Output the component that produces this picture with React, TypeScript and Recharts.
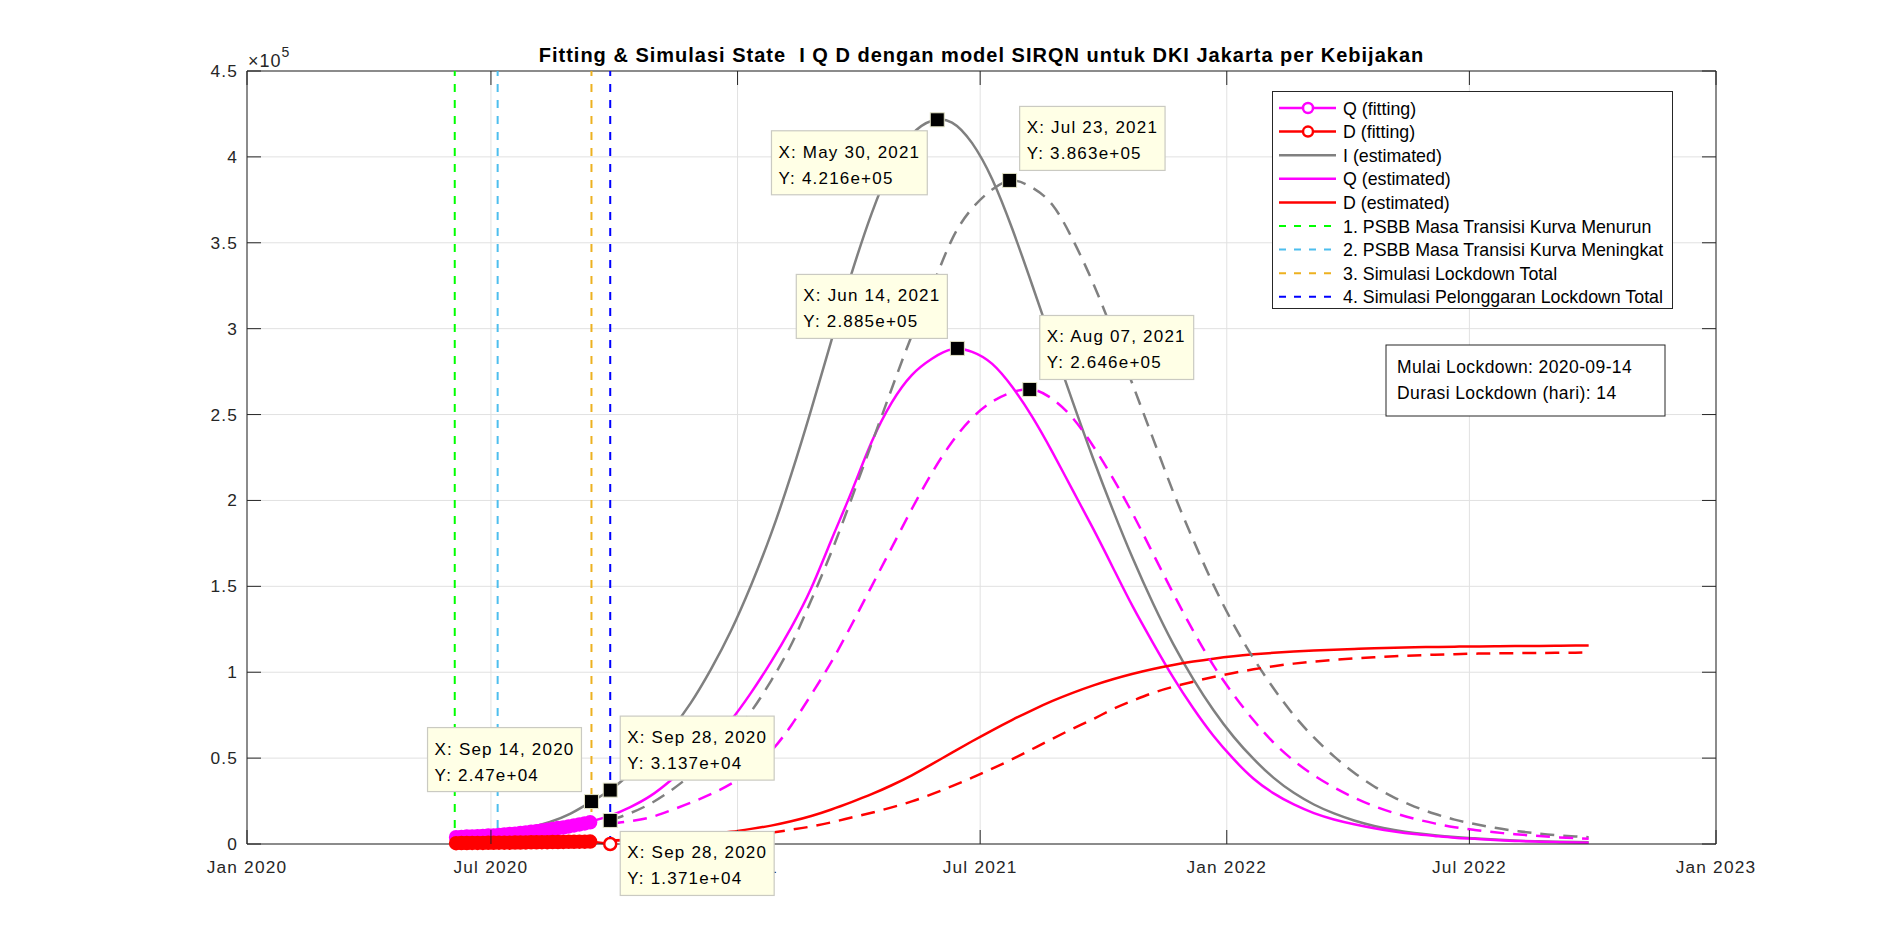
import React from "react";
import {
  CartesianGrid,
  Legend,
  Line,
  LineChart,
  ReferenceDot,
  ReferenceLine,
  XAxis,
  YAxis,
} from "recharts";

const WIDTH = 1898;
const HEIGHT = 949;
const PLOT = { left: 247, right: 1716, top: 71, bottom: 844 };
const PLOT_W = PLOT.right - PLOT.left;
const FONT = '"Liberation Sans", Arial, Helvetica, sans-serif';
const INK = "#262626";
const TICK_LEN = 14;

// x values are days since 1 Jan 2020
const xTicks = [0, 182, 366, 547, 731, 912, 1096];
const xTickLabels = ["Jan 2020", "Jul 2020", "Jan 2021", "Jul 2021", "Jan 2022", "Jul 2022", "Jan 2023"];
const yTicks = [0, 50000, 100000, 150000, 200000, 250000, 300000, 350000, 400000, 450000];
const yTickLabels = ["0", "0.5", "1", "1.5", "2", "2.5", "3", "3.5", "4", "4.5"];

// fitting data (Jun 5 - Sep 14 2020), then one last D point on Sep 28
const fitDays = [156, 160, 164, 168, 172, 176, 180, 184, 188, 192, 196, 200, 204, 208, 212, 216, 220, 224, 228, 232, 236, 240, 244, 248, 252, 256];
const qFit = [4000, 4100, 4300, 4400, 4500, 4700, 4900, 5000, 5300, 5500, 5800, 6000, 6400, 6700, 7100, 7400, 7900, 8300, 8700, 9300, 9600, 10200, 10800, 11400, 12000, 12600];
const dFitDays = [156, 160, 164, 168, 172, 176, 180, 184, 188, 192, 196, 200, 204, 208, 212, 216, 220, 224, 228, 232, 236, 240, 244, 248, 252, 256, 271];
const dFit = [500, 530, 560, 590, 620, 650, 680, 710, 740, 770, 800, 840, 870, 910, 950, 990, 1030, 1070, 1110, 1160, 1200, 1240, 1290, 1330, 1370, 1410, 0];

// simulation days (every 15 days from Sep 28 2020)
const simDays = [271, 286, 301, 316, 331, 346, 361, 376, 391, 406, 421, 436, 451, 466, 481, 496, 511, 526, 541, 556, 571, 586, 601, 616, 631, 646, 661, 676, 691, 706, 721, 736, 751, 766, 781, 796, 811, 826, 841, 856, 871, 886, 901, 916, 931, 946, 961, 976, 991, 1001];

// estimated, no lockdown (solid) - thousands
const iEarlyDays = [156, 166, 181, 196, 211, 226, 241, 256];
const iEarly = [6.8, 6.6, 6.7, 7.6, 9.6, 12.8, 17.5, 24.2];
const iBase = [31.4, 41.2, 52.5, 66, 82, 101.5, 124, 150.5, 180.5, 215, 253, 293, 332, 367, 395, 413, 421, 420, 408, 387, 358, 325, 291, 257.5, 225, 194.5, 166, 140, 116.5, 96, 78, 62.5, 49.5, 38.5, 29.8, 23, 17.8, 13.7, 10.5, 8.2, 6.4, 5.1, 4.1, 3.3, 2.6, 2.0, 1.6, 1.3, 1.1, 1.0];
const qBase = [16.5, 21.5, 28, 37, 47.5, 59, 72, 88, 106, 126, 149, 177, 205, 234, 257, 273, 282.5, 288, 286.5, 279.5, 266, 248.5, 228, 206, 184, 161, 138, 117, 97, 79, 63, 49.5, 38, 29.5, 23, 18, 14.3, 11.5, 9.2, 7.3, 5.8, 4.7, 3.7, 3.0, 2.3, 1.8, 1.4, 1.1, 0.9, 0.8];
const dBase = [2.0, 2.5, 3.1, 3.8, 4.6, 5.7, 7.1, 8.8, 10.7, 13.2, 16.3, 20.1, 24.4, 29.0, 34.2, 40.0, 46.5, 53.2, 59.8, 66.2, 72.3, 78.0, 83.3, 88.0, 92.2, 95.9, 99.1, 101.9, 104.2, 106.2, 107.9, 109.3, 110.4, 111.3, 112.0, 112.6, 113.1, 113.5, 113.9, 114.2, 114.5, 114.7, 114.9, 115.0, 115.1, 115.2, 115.3, 115.4, 115.5, 115.5];

// estimated, with 14-day lockdown (dashed) - thousands
const iLock = [13.71, 18, 23.5, 31, 40, 50.5, 62.5, 77, 95, 116, 142, 170, 201, 233, 265, 296, 324, 352, 370, 381, 386.2, 382, 372, 352, 327, 298, 267, 236, 205, 177, 151, 128, 108, 90.5, 75, 62, 51, 41.5, 33.5, 27, 21.8, 17.6, 14.2, 11.6, 9.4, 7.7, 6.3, 5.2, 4.4, 4.0];
const qLock = [12, 13.3, 15.5, 19.5, 24, 29, 35, 43, 54, 69, 87, 106, 127.5, 150, 172.5, 195, 216, 234, 248, 257.5, 263, 264.6, 259, 248, 232, 213, 192, 169, 146, 124, 104, 87, 72, 59, 48.5, 40, 33, 27, 22, 18, 14.7, 12, 9.8, 8.2, 6.8, 5.7, 4.8, 4.0, 3.4, 3.0];
const dLock = [2.0, 2.3, 2.6, 2.9, 3.3, 3.8, 4.3, 5.2, 6.6, 8.3, 10.2, 12.6, 15.4, 18.2, 21.3, 24.8, 29.0, 33.7, 38.6, 43.9, 49.4, 55.3, 61.3, 67.1, 72.6, 78.5, 83.5, 88, 91.5, 94.5, 97.2, 99.6, 101.7, 103.5, 105.0, 106.2, 107.2, 108.0, 108.7, 109.3, 109.8, 110.2, 110.5, 110.8, 111.0, 111.1, 111.2, 111.3, 111.4, 111.5];

// policy markers
const policyDays = [155, 187, 257, 271];
const policyColors = ["#00FF00", "#4DBEEE", "#EDB120", "#0000FF"];

// data tips
const tipDays = [257, 271, 271, 515, 530, 569, 584];
const tipValues = [24700, 31370, 13710, 421600, 288500, 386300, 264600];
const tipXLabels = ["Sep 14, 2020", "Sep 28, 2020", "Sep 28, 2020", "May 30, 2021", "Jun 14, 2021", "Jul 23, 2021", "Aug 07, 2021"];
const tipYLabels = ["2.47e+04", "3.137e+04", "1.371e+04", "4.216e+05", "2.885e+05", "3.863e+05", "2.646e+05"];
const tipPlacement = ["upLeft", "upRight", "downRight", "downLeft", "upLeft", "upRight", "upRight"];

const legendLabels = [
  "Q (fitting)",
  "D (fitting)",
  "I (estimated)",
  "Q (estimated)",
  "D (estimated)",
  "1. PSBB Masa Transisi Kurva Menurun",
  "2. PSBB Masa Transisi Kurva Meningkat",
  "3. Simulasi Lockdown Total",
  "4. Simulasi Pelonggaran Lockdown Total",
];

const GRAY = "#808080";
const MAGENTA = "#FF00FF";
const RED = "#FF0000";

const toPoints = (days: number[], vals: number[], scale = 1) =>
  days.map((d, i) => ({ x: d, y: vals[i] * scale }));

let measureCtx: CanvasRenderingContext2D | null = null;
function textWidth(s: string, size: number, spacing = 0) {
  if (!measureCtx) measureCtx = document.createElement("canvas").getContext("2d");
  if (!measureCtx) return s.length * size * 0.55;
  measureCtx.font = `${size}px ${FONT}`;
  return measureCtx.measureText(s).width + spacing * s.length;
}

const XTick = (props: any) => {
  const { x, payload } = props;
  const y = PLOT.bottom;
  const i = xTicks.indexOf(payload.value);
  return (
    <g>
      <line x1={x} x2={x} y1={y} y2={y - TICK_LEN} stroke={INK} />
      <line x1={x} x2={x} y1={PLOT.top} y2={PLOT.top + TICK_LEN} stroke={INK} />
      <text x={x} y={y + 29} textAnchor="middle" fontSize={17.3} letterSpacing={1.2} fill={INK} fontFamily={FONT}>
        {xTickLabels[i]}
      </text>
    </g>
  );
};

const YTick = (props: any) => {
  const { y, payload } = props;
  const x = PLOT.left;
  const i = yTicks.indexOf(payload.value);
  return (
    <g>
      <line x1={x} x2={x + TICK_LEN} y1={y} y2={y} stroke={INK} />
      <line x1={x + PLOT_W} x2={x + PLOT_W - TICK_LEN} y1={y} y2={y} stroke={INK} />
      <text x={x - 9} y={y + 6} textAnchor="end" fontSize={17.3} letterSpacing={1.2} fill={INK} fontFamily={FONT}>
        {yTickLabels[i]}
      </text>
    </g>
  );
};

function DataTip({ cx, cy, i }: { cx: number; cy: number; i: number }) {
  const l1 = `X: ${tipXLabels[i]}`;
  const l2 = `Y: ${tipYLabels[i]}`;
  const w = Math.max(textWidth(l1, 17, 1.2), textWidth(l2, 17, 1.2)) + 14;
  const h = 64;
  const place = tipPlacement[i];
  const bx = place.endsWith("Left") ? cx - 10 - w : cx + 10;
  const by = place.startsWith("up") ? cy - 10 - h : cy + 11;
  return (
    <g>
      <rect x={bx} y={by} width={w} height={h} fill="#FFFFE6" stroke="#CACAC2" strokeWidth={1.2} />
      <text x={bx + 7} y={by + 27} fontSize={17} letterSpacing={1.2} fontFamily={FONT} fill="#000">
        {l1}
      </text>
      <text x={bx + 7} y={by + 53} fontSize={17} letterSpacing={1.2} fontFamily={FONT} fill="#000">
        {l2}
      </text>
      <rect x={cx - 7} y={cy - 7} width={14} height={14} fill="#000" stroke="#E2E2C6" strokeWidth={1} />
    </g>
  );
}

function LegendBox() {
  const kinds = ["fit", "fit", "line", "line", "line", "dash", "dash", "dash", "dash"];
  const colors = [MAGENTA, RED, GRAY, MAGENTA, RED, ...policyColors];
  return (
    <div
      style={{
        width: 401,
        height: 218,
        border: `1px solid ${INK}`,
        background: "#fff",
        boxSizing: "border-box",
      }}
    >
      <svg width={399} height={216} style={{ display: "block" }}>
        {legendLabels.map((label, i) => {
          const y = 16 + i * 23.6;
          const kind = kinds[i];
          return (
            <g key={label}>
              <line
                x1={6}
                x2={63}
                y1={y}
                y2={y}
                stroke={colors[i]}
                strokeWidth={kind === "dash" ? 2 : 2.5}
                strokeDasharray={kind === "dash" ? "7 8" : undefined}
              />
              {kind === "fit" && <circle cx={35} cy={y} r={5} fill="#fff" stroke={colors[i]} strokeWidth={2.5} />}
              <text x={70} y={y + 6.5} fontSize={17.8} fontFamily={FONT} fill="#000">
                {label}
              </text>
            </g>
          );
        })}
      </svg>
    </div>
  );
}

const fitDot = (color: string, count: number) => (p: any) => {
  const last = p.index === count - 1 && color === RED;
  return (
    <circle
      key={`dot-${color}-${p.index}`}
      cx={p.cx}
      cy={p.cy}
      r={6}
      fill={last ? "#fff" : color}
      stroke={color}
      strokeWidth={2.5}
    />
  );
};

export default function App() {
  const title = "Fitting & Simulasi State  I Q D dengan model SIRQN untuk DKI Jakarta per Kebijakan";
  const K = 1000;
  const curveProps = {
    dataKey: "y",
    type: "natural" as const,
    strokeWidth: 2.5,
    dot: false,
    activeDot: false,
    isAnimationActive: false,
  };
  return (
    <div style={{ position: "relative", width: WIDTH, height: HEIGHT, background: "#fff" }}>
      <style>{"body{margin:0;background:#fff}"}</style>
      <LineChart
        width={WIDTH}
        height={HEIGHT}
        margin={{ top: PLOT.top, right: WIDTH - PLOT.right, bottom: HEIGHT - PLOT.bottom - 1, left: PLOT.left - 1 }}
      >
        <CartesianGrid stroke="#E1E1E1" />
        <XAxis
          dataKey="x"
          type="number"
          domain={[0, 1096]}
          ticks={xTicks}
          interval={0}
          height={1}
          tickSize={0}
          tickMargin={0}
          tickLine={false}
          axisLine={{ stroke: INK }}
          tick={<XTick />}
        />
        <YAxis
          type="number"
          domain={[0, 450000]}
          ticks={yTicks}
          interval={0}
          width={1}
          tickSize={0}
          tickMargin={0}
          tickLine={false}
          axisLine={{ stroke: INK }}
          tick={<YTick />}
        />
        <ReferenceLine y={450000} stroke={INK} />
        <ReferenceLine x={1096} stroke={INK} />

        <Line
          data={toPoints(fitDays, qFit)}
          dataKey="y"
          type="linear"
          stroke={MAGENTA}
          strokeWidth={2.5}
          dot={fitDot(MAGENTA, fitDays.length)}
          activeDot={false}
          isAnimationActive={false}
        />
        <Line
          data={toPoints(dFitDays, dFit)}
          dataKey="y"
          type="linear"
          stroke={RED}
          strokeWidth={2.5}
          dot={fitDot(RED, dFitDays.length)}
          activeDot={false}
          isAnimationActive={false}
        />
        <Line {...curveProps} data={toPoints([...iEarlyDays, ...simDays], [...iEarly, ...iBase], K)} stroke={GRAY} />
        <Line {...curveProps} data={toPoints([256, ...simDays], [13, ...qBase], K)} stroke={MAGENTA} />
        <Line {...curveProps} data={toPoints(simDays, dBase, K)} stroke={RED} />
        <Line {...curveProps} data={toPoints(simDays, iLock, K)} stroke={GRAY} strokeDasharray="14 9" />
        <Line {...curveProps} data={toPoints(simDays, qLock, K)} stroke={MAGENTA} strokeDasharray="14 9" />
        <Line {...curveProps} data={toPoints(simDays, dLock, K)} stroke={RED} strokeDasharray="14 9" />

        {policyDays.map((d, i) => (
          <ReferenceLine key={`p${d}`} x={d} stroke={policyColors[i]} strokeWidth={2} strokeDasharray="8 8" />
        ))}

        {tipDays.map((d, i) => (
          <ReferenceDot
            key={`tip${i}`}
            x={d}
            y={tipValues[i]}
            r={7}
            ifOverflow="visible"
            zIndex={2000}
            shape={(p: any) => <DataTip cx={p.cx} cy={p.cy} i={i} />}
          />
        ))}

        <Legend
          layout="horizontal"
          verticalAlign="middle"
          align="center"
          content={() => <LegendBox />}
          wrapperStyle={{ left: 1272, top: 91, width: 401, height: 218 }}
        />
      </LineChart>

      <svg
        width={WIDTH}
        height={HEIGHT}
        style={{ position: "absolute", left: 0, top: 0, pointerEvents: "none" }}
      >
        <text
          x={(PLOT.left + PLOT.right) / 2}
          y={62}
          textAnchor="middle"
          fontSize={20}
          letterSpacing={1}
          fontWeight="bold"
          fontFamily={FONT}
          fill="#000"
          style={{ whiteSpace: "pre" }}
        >
          {title}
        </text>
        <text x={248} y={67} fontSize={18} letterSpacing={1} fontFamily={FONT} fill={INK}>
          ×10
          <tspan dy={-10} fontSize={14}>
            5
          </tspan>
        </text>
        <rect x={1386} y={345} width={279} height={71} fill="#fff" stroke={INK} strokeWidth={1} />
        <text x={1397} y={373} fontSize={17.5} letterSpacing={0.4} fontFamily={FONT} fill="#000">
          Mulai Lockdown: 2020-09-14
        </text>
        <text x={1397} y={399} fontSize={17.5} letterSpacing={0.4} fontFamily={FONT} fill="#000">
          Durasi Lockdown (hari): 14
        </text>
      </svg>
    </div>
  );
}
